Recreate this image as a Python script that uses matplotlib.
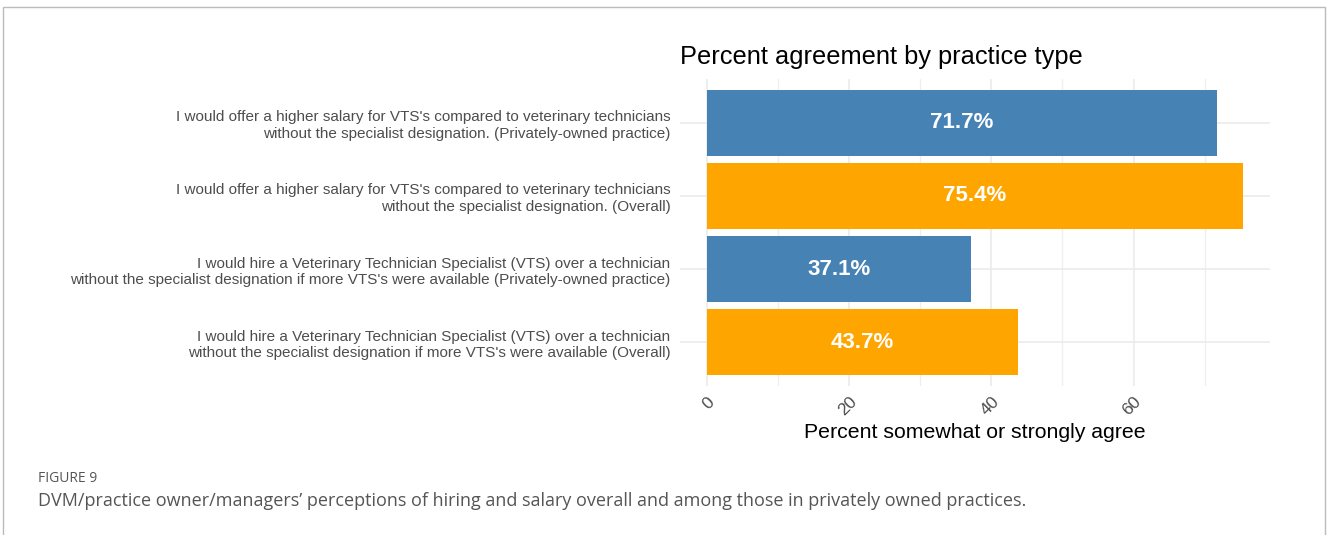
import matplotlib
matplotlib.use("Agg")
import matplotlib.pyplot as plt
from matplotlib.patches import Rectangle
from matplotlib.ticker import MultipleLocator

# Дані (зверху вниз)
labels = [
    "I would offer a higher salary for VTS's compared to veterinary technicians\nwithout the specialist designation. (Privately-owned practice)",
    "I would offer a higher salary for VTS's compared to veterinary technicians\nwithout the specialist designation. (Overall)",
    "I would hire a Veterinary Technician Specialist (VTS) over a technician\nwithout the specialist designation if more VTS's were available (Privately-owned practice)",
    "I would hire a Veterinary Technician Specialist (VTS) over a technician\nwithout the specialist designation if more VTS's were available (Overall)",
]
values = [71.7, 75.4, 37.1, 43.7]
groups = ["Privately-owned", "Overall", "Privately-owned", "Overall"]
group_colors = {"Privately-owned": "#4682B4", "Overall": "#FFA500"}

plt.rcParams["font.family"] = ["Liberation Sans", "DejaVu Sans"]

fig = plt.figure(figsize=(13.28, 5.35), dpi=100)
ax = fig.add_axes([680 / 1328, 1 - 386 / 535, 590 / 1328, 307 / 535])

ypos = list(range(len(values)))
colors = [group_colors[g] for g in groups]
ax.barh(ypos, values, height=0.9, color=colors, zorder=2)

for y, v in zip(ypos, values):
    ax.text(v / 2, y, f"{v:.1f}%", ha="center", va="center",
            color="white", fontsize=16, fontweight="bold", zorder=3)

ax.set_xlim(-0.05 * max(values), 1.05 * max(values))
ax.set_ylim(len(values) - 1 + 0.6, -0.6)
ax.set_yticks(ypos)
ax.set_yticklabels(labels, fontsize=11, color="#4D4D4D", ha="right", linespacing=1.2)
ax.xaxis.set_minor_locator(MultipleLocator(10))
ax.set_xticks([0, 20, 40, 60])
for t in ax.get_xticklabels():
    t.set_rotation(45)
    t.set_ha("right")
    t.set_rotation_mode("anchor")
ax.tick_params(axis="x", which="both", length=0, pad=6, labelsize=12.5, labelcolor="#4D4D4D")
ax.tick_params(axis="y", length=0, pad=7)

ax.grid(True, which="major", color="#EBEBEB", linewidth=1.2, zorder=0)
ax.grid(True, which="minor", axis="x", color="#EFEFEF", linewidth=0.9, zorder=0)
ax.set_axisbelow(True)
for s in ax.spines.values():
    s.set_visible(False)

ax.set_xlabel("Percent somewhat or strongly agree", fontsize=15.3, color="black", labelpad=3)
ax.set_title("Percent agreement by practice type", fontsize=18.3, loc="left", pad=11, color="black")

# Підпис рисунка
fig.text(38 / 1328, 1 - 479 / 535, "FIGURE 9", fontsize=10, color="#555555",
         family=["Open Sans", "DejaVu Sans"], va="center")
fig.text(38 / 1328, 1 - 501 / 535,
         "DVM/practice owner/managers\u2019 perceptions of hiring and salary overall and among those in privately owned practices.",
         fontsize=13, color="#555555", family=["Open Sans", "DejaVu Sans"], va="center")

# Рамка
fig.patches.append(Rectangle((3 / 1328, -0.1), 1322 / 1328, 1.1 - 7 / 535,
                             transform=fig.transFigure, fill=False,
                             edgecolor="#BBBBBB", linewidth=1))

fig.savefig("out.png", dpi=100)
